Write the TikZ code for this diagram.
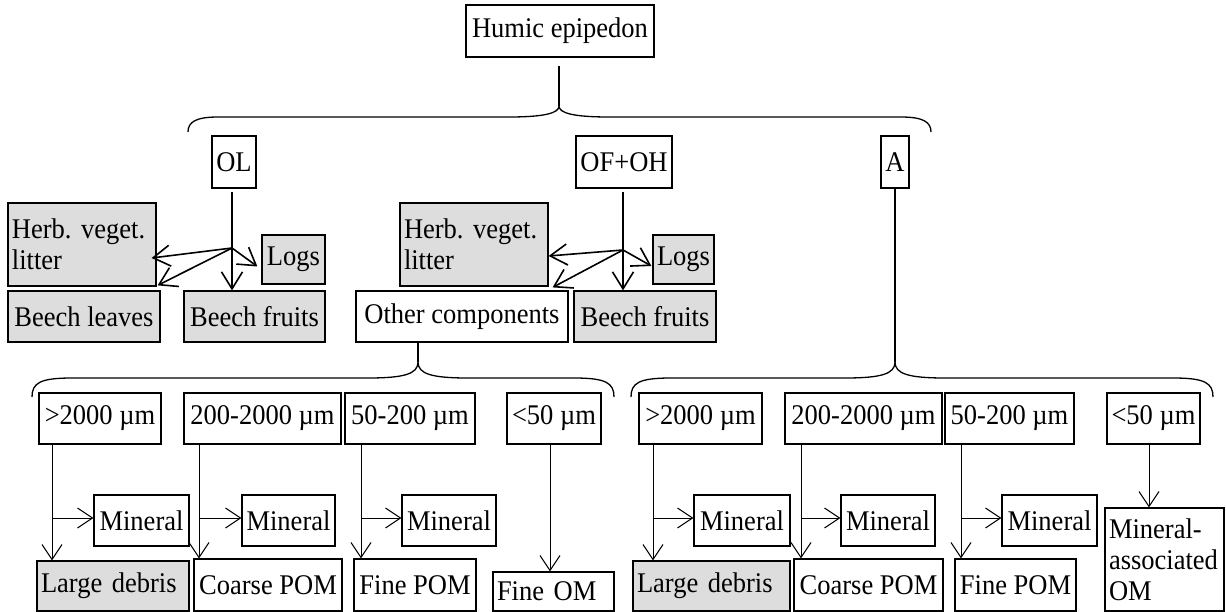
\documentclass[tikz,border=0pt]{standalone}
\usepackage{fontspec}
\setmainfont{Liberation Serif}[FakeStretch=0.93]
\usetikzlibrary{arrows.meta,calc}
\definecolor{boxgray}{RGB}{221,221,221}
\hyphenpenalty=10000
\exhyphenpenalty=10000
\frenchspacing
% #1 left x, #2 cusp x, #3 right x, #4 y of ends, #5 y of straight part, #6 y of cusp, #7 width of end curve
\newcommand{\curlybrace}[7]{%
  \draw[brace] (#1,#4) .. controls (#1,{#5+5}) and ({#1+8},#5) .. ({#1+#7},#5)
    -- ({#2-50},#5) .. controls ({#2-14},#5) and (#2,{#5-4}) .. (#2,#6)
    .. controls (#2,{#5-4}) and ({#2+14},#5) .. ({#2+50},#5)
    -- ({#3-#7},#5) .. controls ({#3-8},#5) and (#3,{#5+5}) .. (#3,#4);}
\begin{document}
\begin{tikzpicture}[x=1pt,y=-1pt,
  box/.style={draw, line width=1.2pt, inner xsep=4pt, inner ysep=2pt, align=left,
              font=\fontsize{28.5}{31}\selectfont},
  gbox/.style={box, fill=boxgray},
  conn/.style={line width=1pt},
  brace/.style={line width=1.3pt},
  arr/.style={line width=1pt, -{Straight Barb[length=15pt,width=20pt]}},
  thickarr/.style={line width=1.6pt, -{Straight Barb[length=17pt,width=21pt]}}]
\useasboundingbox (0,0) rectangle (1226,612);

% top level
\node[box, minimum width=188pt, minimum height=52pt] (humic) at (560,31) {Humic epipedon};
\node[box, minimum width=44pt, minimum height=52pt] (ol) at (234,162) {OL};
\node[box, minimum width=96pt, minimum height=52pt] (ofoh) at (624,162) {OF+OH};
\node[box, minimum width=28pt, minimum height=52pt] (a) at (895,162) {A};

% OL components
\node[gbox, text width=140pt, minimum height=83pt] (herb1) at (82,244.5) {Herb. veget.\\litter};
\node[gbox, minimum width=63pt, minimum height=49pt] (logs1) at (293.5,259.5) {Logs};
\node[gbox, minimum width=152pt, minimum height=51pt] (beechL) at (84,316.5) {Beech leaves};
\node[gbox, minimum width=141pt, minimum height=51pt] (beechF1) at (254.5,316.5) {Beech fruits};

% OF+OH components
\node[gbox, text width=140pt, minimum height=83pt] (herb2) at (474,244.5) {Herb. veget.\\litter};
\node[gbox, minimum width=61pt, minimum height=49pt] (logs2) at (683.5,259.5) {Logs};
\node[box, minimum width=212pt, minimum height=51pt] (other) at (462,316.5) {Other components};
\node[gbox, minimum width=142pt, minimum height=51pt] (beechF2) at (645,316.5) {Beech fruits};

% size classes
\node[box, minimum width=122pt, minimum height=51pt] (l1) at (100,418.5) {>2000 µm};
\node[box, minimum width=157pt, minimum height=51pt] (l2) at (262.5,418.5) {200-2000 µm};
\node[box, minimum width=130pt, minimum height=51pt] (l3) at (410,418.5) {50-200 µm};
\node[box, minimum width=94pt, minimum height=51pt] (l4) at (554,418.5) {<50 µm};
\node[box, minimum width=123pt, minimum height=51pt] (r1) at (700.5,418.5) {>2000 µm};
\node[box, minimum width=157pt, minimum height=51pt] (r2) at (863.5,418.5) {200-2000 µm};
\node[box, minimum width=129pt, minimum height=51pt] (r3) at (1009.5,418.5) {50-200 µm};
\node[box, minimum width=93pt, minimum height=51pt] (r4) at (1153.5,418.5) {<50 µm};

% mineral boxes
\node[box, minimum width=95pt, minimum height=51pt] (lm1) at (141.5,520.5) {Mineral};
\node[box, minimum width=93pt, minimum height=51pt] (lm2) at (288.5,520.5) {Mineral};
\node[box, minimum width=94pt, minimum height=51pt] (lm3) at (449,520.5) {Mineral};
\node[box, minimum width=96pt, minimum height=51pt] (rm1) at (742,520.5) {Mineral};
\node[box, minimum width=94pt, minimum height=51pt] (rm2) at (888,520.5) {Mineral};
\node[box, minimum width=95pt, minimum height=51pt] (rm3) at (1049.5,520.5) {Mineral};

% final fractions
\node[gbox, text width=144pt, minimum height=50pt] (ld1) at (113,586) {Large debris};
\node[box, minimum width=148pt, minimum height=52pt] (cp1) at (268,585) {Coarse POM};
\node[box, minimum width=122pt, minimum height=52pt] (fp1) at (415,585) {Fine POM};
\node[box, text width=113pt, minimum height=39pt] (fom) at (553.5,591.5) {Fine OM};
\node[gbox, text width=149pt, minimum height=50pt] (ld2) at (711.5,586) {Large debris};
\node[box, minimum width=149pt, minimum height=52pt] (cp2) at (868.5,585) {Coarse POM};
\node[box, minimum width=121pt, minimum height=52pt] (fp2) at (1015.5,585) {Fine POM};
\node[box, text width=111pt, minimum height=103pt] (maom) at (1164.5,559.5) {Mineral-\\associated\\OM};

% braces
\coordinate (c0) at (559,106);
\coordinate (c1) at (418,362);
\coordinate (c2) at (895,362);
\curlybrace{188}{559}{931}{132}{117}{106}{30}
\curlybrace{32}{418}{614}{397}{378}{362}{40}
\curlybrace{631}{895}{1213}{397}{378}{362}{40}
\draw[brace] ($(c0 |- humic.south)+(0,8)$) -- (c0);
\draw[brace] (c1 |- other.south) -- (c1);
\draw[brace] (a) -- (c2);

% OL arrows
\coordinate (b1) at (232,248);
\draw[thickarr] ($(b1 |- ol.south)+(0,3)$) -- (b1 |- beechF1.north);
\draw[thickarr] (b1) -- ($(herb1.east)+(-5,13.5)$);
\draw[thickarr] (b1) -- ($(beechL.north east)+(-3,-5)$);
\draw[thickarr] (b1) -- ($(logs1.west)+(-4,7)$);

% OF+OH arrows
\coordinate (b2) at (623,250);
\draw[thickarr] ($(b2 |- ofoh.south)+(0,3)$) -- (b2 |- beechF2.north);
\draw[thickarr] (b2) -- ($(herb2.east)+(0,11.5)$);
\draw[thickarr] (b2) -- ($(other.north east)+(-16,-3)$);
\draw[thickarr] (b2) -- ($(logs2.west)+(-1,6.5)$);

% size class arrows
\coordinate (j1) at (52,518);
\coordinate (j2) at (199,518);
\coordinate (j3) at (361,518);
\coordinate (j4) at (550,518);
\coordinate (k1) at (653,518);
\coordinate (k2) at (801,518);
\coordinate (k3) at (961,518);
\coordinate (k4) at (1149,518);

\draw[arr] (j1 |- l1.south) -- (j1 |- ld1.north);
\draw[arr] (j1) -- (j1 -| lm1.west);
\draw[arr] (j2 |- l2.south) -- (j2 |- cp1.north);
\draw[arr] (j2) -- (j2 -| lm2.west);
\draw[arr] (j3 |- l3.south) -- (j3 |- fp1.north);
\draw[arr] (j3) -- (j3 -| lm3.west);
\draw[arr] (j4 |- l4.south) -- (j4 |- fom.north);

\draw[arr] (k1 |- r1.south) -- (k1 |- ld2.north);
\draw[arr] (k1) -- (k1 -| rm1.west);
\draw[arr] (k2 |- r2.south) -- (k2 |- cp2.north);
\draw[arr] (k2) -- (k2 -| rm2.west);
\draw[arr] (k3 |- r3.south) -- (k3 |- fp2.north);
\draw[arr] (k3) -- (k3 -| rm3.west);
\draw[arr] (k4 |- r4.south) -- (k4 |- maom.north);
\end{tikzpicture}
\end{document}
